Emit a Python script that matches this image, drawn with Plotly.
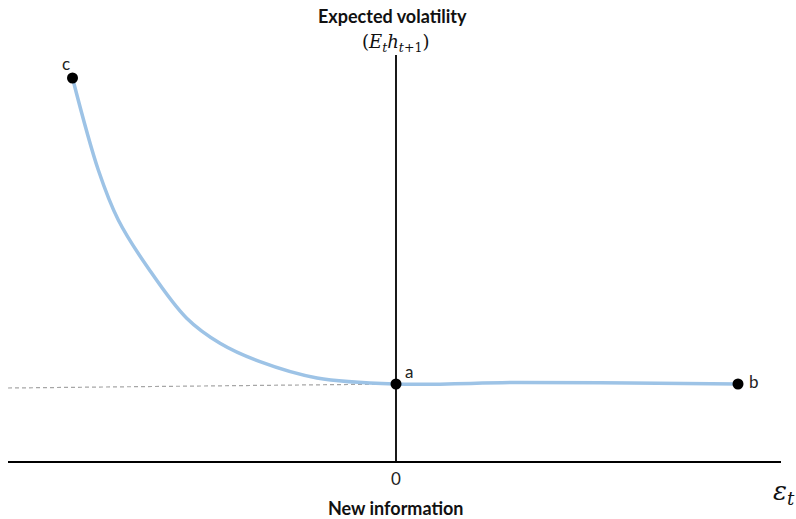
import plotly.graph_objects as go

# News impact curve: expected volatility vs. new information (epsilon_t)
curve_eps = [-3.235, -2.977, -2.777, -2.477, -2.093, -1.76, -1.36, -0.79, 0.0,
             1.24, 2.34, 3.42]
curve_vol = [3.84, 2.92, 2.42, 1.937, 1.437, 1.187, 1.003, 0.84, 0.78,
             0.795, 0.79, 0.78]

# Labelled points on the curve
point_names = ["c", "a", "b"]
point_eps = [-3.235, 0.0, 3.42]
point_vol = [3.84, 0.78, 0.78]

# Baseline (symmetric reference) drawn dashed to the left of a
base_eps = [-3.88, 0.0]
base_vol = [0.74, 0.78]

# Axis extents
h_axis_eps = [-3.88, 3.85]
v_axis_vol = [0.0, 4.07]

fig = go.Figure()

fig.add_trace(go.Scatter(x=base_eps, y=base_vol, mode="lines",
                         line=dict(color="#a6a6a6", width=1.2, dash="4px,3px"),
                         hoverinfo="skip"))
fig.add_trace(go.Scatter(x=h_axis_eps, y=[0, 0], mode="lines",
                         line=dict(color="black", width=2), hoverinfo="skip"))
fig.add_trace(go.Scatter(x=[0, 0], y=v_axis_vol, mode="lines",
                         line=dict(color="black", width=1.8), hoverinfo="skip"))
fig.add_trace(go.Scatter(x=curve_eps, y=curve_vol, mode="lines",
                         line=dict(color="#9dc3e6", width=3.5, shape="spline", smoothing=1.0),
                         hoverinfo="skip"))
fig.add_trace(go.Scatter(x=point_eps, y=point_vol, mode="markers",
                         marker=dict(color="black", size=11), hoverinfo="skip"))

sans = "Lato, 'Open Sans', sans-serif"
label_font = dict(family=sans, size=17, color="#222")
offsets = {"c": (-0.07, 0.15), "a": (0.13, 0.13), "b": (0.16, 0.03)}
for name, x, y in zip(point_names, point_eps, point_vol):
    dx, dy = offsets[name]
    fig.add_annotation(x=x + dx, y=y + dy, text=name, showarrow=False,
                       font=label_font, xanchor="center", yanchor="middle")

fig.add_annotation(x=-0.04, y=4.46, text="<b>Expected volatility</b>", showarrow=False,
                   font=dict(family=sans, size=18, color="#111"),
                   xanchor="center", yanchor="middle")
fig.add_annotation(x=0.0, y=4.19,
                   text="(<i>E</i><sub><i>t</i></sub><i>h</i><sub><i>t</i>+1</sub>)",
                   showarrow=False,
                   font=dict(family="'DejaVu Serif', serif", size=18, color="#111"),
                   xanchor="center", yanchor="middle")
fig.add_annotation(x=0.0, y=-0.16, text="0", showarrow=False,
                   font=dict(family=sans, size=17, color="#222"),
                   xanchor="center", yanchor="middle")
fig.add_annotation(x=0.0, y=-0.46, text="<b>New information</b>", showarrow=False,
                   font=dict(family=sans, size=18, color="#111"),
                   xanchor="center", yanchor="middle")
fig.add_annotation(x=3.88, y=-0.30, text="<i>ε</i><sub><i>t</i></sub>", showarrow=False,
                   font=dict(family="'DejaVu Serif', serif", size=26, color="#111"),
                   xanchor="center", yanchor="middle")

fig.update_layout(
    width=796, height=519,
    margin=dict(l=0, r=0, t=0, b=0),
    paper_bgcolor="white", plot_bgcolor="white",
    showlegend=False,
    xaxis=dict(range=[-3.96, 4.00], visible=False, fixedrange=True),
    yaxis=dict(range=[-0.57, 4.62], visible=False, fixedrange=True),
)

fig.write_html("out.html")
